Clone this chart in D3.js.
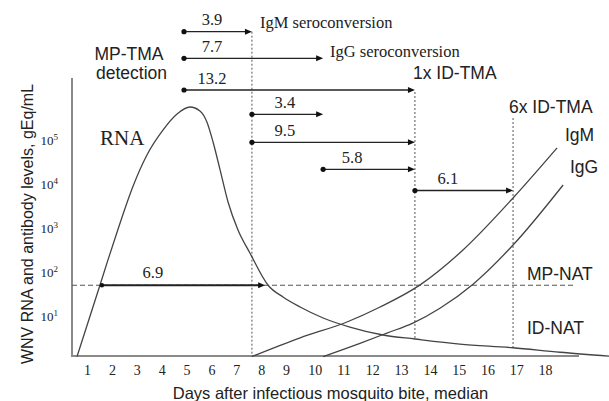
<!DOCTYPE html>
<html>
<head>
<meta charset="utf-8">
<script src="https://cdn.jsdelivr.net/npm/d3@7"></script>
<style>
  html, body { margin: 0; padding: 0; background: #fff; }
  svg { display: block; }
  .sans { font-family: "Liberation Sans", Arial, sans-serif; fill: #222; }
  .serif { font-family: "Liberation Serif", "Times New Roman", serif; fill: #222; }
</style>
</head>
<body>
<script>
// ---------------- data ----------------
const dayTicks = [1,2,3,4,5,6,7,8,9,10,11,12,13,14,15,16,17,18];
const yTickExponents = [1,2,3,4,5];

// RNA curve (day, gEq/mL)
const rnaDays   = [0.60, 1.52, 1.84, 2.25, 2.85, 3.41, 4.06, 4.62, 5.14, 5.54, 5.82, 6.07, 6.35, 6.67, 7.07, 7.55, 8.28, 8.88, 9.49, 10.29, 11.22, 12.37, 13.48, 15.04, 16.89, 18.52, 20.23];
const rnaLevels = [1.2, 50, 186, 950, 8900, 45700, 170000, 390000, 562000, 457000, 257000, 89000, 21000, 3900, 900, 270, 50, 27, 16, 9.0, 5.6, 3.7, 3.0, 2.3, 1.9, 1.5, 1.23];

// IgM curve
const igmDays   = [7.63, 9.49, 11.12, 12.27, 13.66, 15.15, 16.89, 18.42];
const igmLevels = [1.2, 3.2, 7.3, 16, 51, 316, 4800, 66000];

// IgG curve
const iggDays   = [10.29, 11.57, 12.51, 13.41, 14.35, 15.50, 16.89, 18.63];
const iggLevels = [1.2, 2.4, 4.1, 6.9, 15, 53, 410, 9500];

// interval arrows (days)
const arrowFrom   = [4.90, 4.90, 4.90, 7.63, 7.63, 10.29, 13.48];
const arrowTo     = [7.63, 10.29, 13.48, 10.29, 13.48, 13.48, 16.89];
const arrowLabels = ["3.9", "7.7", "13.2", "3.4", "9.5", "5.8", "6.1"];

// RNA above MP-NAT threshold
const mpNatThreshold = 50;
const natSpan = [1.60, 8.16];
const natSpanLabel = "6.9";

// event lines (days, level where line stops)
const eventDays = [7.63, 13.48, 16.89];
const eventBottomLevels = [1.2, 3.0, 1.9];

// ---------------- layout ----------------
const W = 609, H = 401;
const plotLeft = 72, plotRight = 579, plotTop = 78, plotBottom = 356;
const arrowRowY = [31.7, 58.3, 90, 114.3, 142.3, 169.3, 190.5];
const arrowLabelDx = [28, 28, 28, 33, 33, 29, 33];
const eventTopY = [31.7, 92, 118];
const dashEndX = 573;

const svg = d3.select("body").append("svg").attr("width", W).attr("height", H);

// schematic x axis (slightly stretched after day 9, as in the original)
const x = d3.scaleLinear().domain([1, 9, 18]).range([87, 286, 545]);
const y = d3.scaleLog().domain([1, 1e6]).range([360, 96]);

const ink = "#222";
const curveCol = "#444";

// axes frame
svg.append("line").attr("x1", plotLeft).attr("x2", plotLeft).attr("y1", plotTop).attr("y2", plotBottom)
  .attr("stroke", "#8a8a8a").attr("stroke-width", 2);
svg.append("line").attr("x1", plotLeft - 1).attr("x2", plotRight).attr("y1", plotBottom).attr("y2", plotBottom)
  .attr("stroke", "#8a8a8a").attr("stroke-width", 2);

// x axis tick labels
const xAxis = d3.axisBottom(x).tickValues(dayTicks).tickSize(0).tickPadding(9).tickFormat(d3.format("d"));
const gx = svg.append("g").attr("transform", `translate(0,${plotBottom})`).call(xAxis);
gx.select(".domain").remove();
gx.selectAll("text").attr("font-size", 14).attr("fill", ink)
  .style("font-family", '"Liberation Serif", "Times New Roman", serif');

// y axis tick labels with superscripts
const yAxis = d3.axisLeft(y).tickValues(yTickExponents.map(e => Math.pow(10, e))).tickSize(0).tickPadding(14).tickFormat(() => "");
const gy = svg.append("g").attr("transform", `translate(${plotLeft},0)`).call(yAxis);
gy.select(".domain").remove();
gy.selectAll(".tick text").each(function(d, i) {
  const t = d3.select(this)
    .style("font-family", '"Liberation Serif", "Times New Roman", serif')
    .attr("font-size", 13).attr("fill", ink).attr("dy", "0.38em");
  t.append("tspan").text("10");
  t.append("tspan").attr("font-size", 9).attr("dy", -5).text(String(yTickExponents[i]));
});

// axis titles
svg.append("text").attr("class", "sans").attr("font-size", 16.5)
  .attr("x", 330.5).attr("y", 399).attr("text-anchor", "middle")
  .text("Days after infectious mosquito bite, median");
svg.append("text").attr("class", "sans").attr("font-size", 16)
  .attr("transform", "translate(33,224) rotate(-90)").attr("text-anchor", "middle")
  .text("WNV RNA and antibody levels, gEq/mL");

// MP-NAT dashed threshold
svg.append("line").attr("x1", plotLeft).attr("x2", dashEndX)
  .attr("y1", y(mpNatThreshold)).attr("y2", y(mpNatThreshold))
  .attr("stroke", "#555").attr("stroke-width", 1.1).attr("stroke-dasharray", "5,3");

// event dotted verticals
eventDays.forEach((d, i) => {
  svg.append("line").attr("x1", x(d)).attr("x2", x(d))
    .attr("y1", eventTopY[i]).attr("y2", y(eventBottomLevels[i]))
    .attr("stroke", "#555").attr("stroke-width", 1).attr("stroke-dasharray", "2,2");
});

// curves
const line = d3.line().x(p => x(p[0])).y(p => y(p[1])).curve(d3.curveMonotoneX);
[[rnaDays, rnaLevels], [igmDays, igmLevels], [iggDays, iggLevels]].forEach(([ds, ls]) => {
  svg.append("path").attr("d", line(ds.map((d, i) => [d, ls[i]])))
    .attr("fill", "none").attr("stroke", curveCol).attr("stroke-width", 1.3);
});

// arrow helper
function arrow(x1, x2, yy, w, dotR) {
  svg.append("line").attr("x1", x1).attr("x2", x2 - 4).attr("y1", yy).attr("y2", yy)
    .attr("stroke", ink).attr("stroke-width", w);
  svg.append("circle").attr("cx", x1).attr("cy", yy).attr("r", dotR).attr("fill", "#111");
  svg.append("path").attr("d", `M${x2},${yy} L${x2 - 7},${yy - 3} L${x2 - 7},${yy + 3} Z`).attr("fill", "#111");
}

arrowFrom.forEach((f, i) => {
  const yy = arrowRowY[i];
  arrow(x(f), x(arrowTo[i]), yy, 1.3, 2.6);
  svg.append("text").attr("class", "serif").attr("font-size", 16.5)
    .attr("x", x(f) + arrowLabelDx[i]).attr("y", yy - 6.5).attr("text-anchor", "middle")
    .text(arrowLabels[i]);
});

// 6.9 span at MP-NAT level
arrow(x(natSpan[0]), x(natSpan[1]), y(mpNatThreshold), 2, 2.2);
svg.append("text").attr("class", "serif").attr("font-size", 16.5)
  .attr("x", x(natSpan[0]) + 51).attr("y", y(mpNatThreshold) - 7).attr("text-anchor", "middle")
  .text(natSpanLabel);

// labels
const sansLabels = [
  ["MP-TMA", 129, 60, "middle"],
  ["detection", 131.5, 79, "middle"],
  ["1x ID-TMA", 413, 79, "start"],
  ["6x ID-TMA", 509, 113, "start"],
  ["IgM", 565, 141, "start"],
  ["IgG", 570, 173, "start"],
  ["MP-NAT", 527, 279.5, "start"],
  ["ID-NAT", 527, 333.5, "start"]
];
sansLabels.forEach(([t, lx, ly, a]) => {
  svg.append("text").attr("class", "sans").attr("font-size", 17.5)
    .attr("x", lx).attr("y", ly).attr("text-anchor", a).text(t);
});
svg.append("text").attr("class", "serif").attr("font-size", 21).attr("x", 100).attr("y", 145).text("RNA");
svg.append("text").attr("class", "serif").attr("font-size", 16.5).attr("x", 260).attr("y", 28).text("IgM seroconversion");
svg.append("text").attr("class", "serif").attr("font-size", 16.5).attr("x", 330).attr("y", 56.5).text("IgG seroconversion");
</script>
</body>
</html>
